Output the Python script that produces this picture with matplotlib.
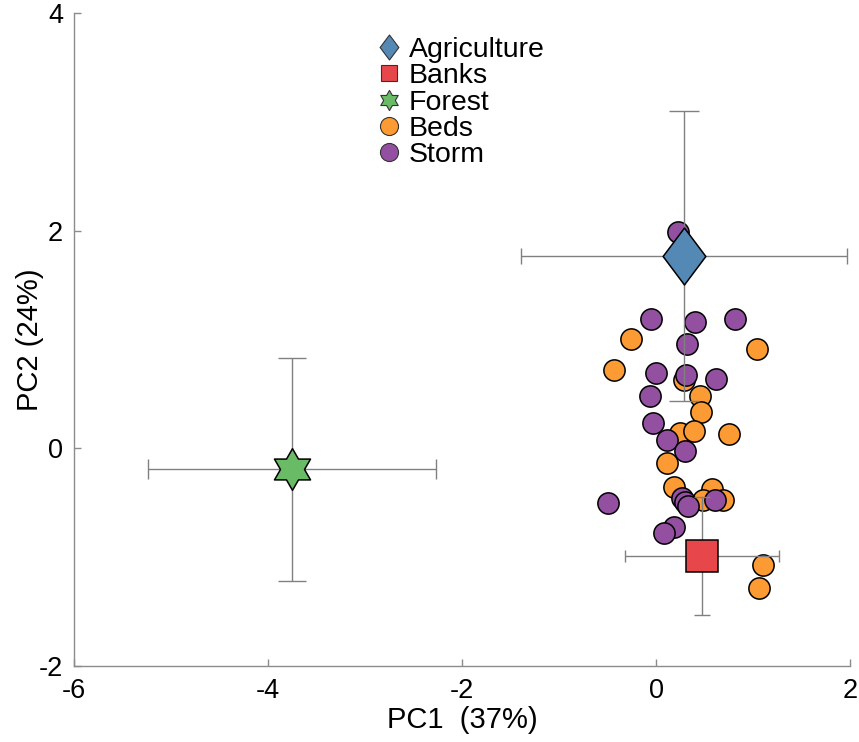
import numpy as np
import matplotlib
matplotlib.use("Agg")
import matplotlib.pyplot as plt
from matplotlib.path import Path
from matplotlib.lines import Line2D

plt.rcParams['font.family'] = ['Liberation Sans', 'DejaVu Sans']

# ---- data ----
groups = ["Agriculture", "Banks", "Forest", "Beds", "Storm"]
colors = ["#5589b5", "#e7474a", "#6abb66", "#fc9a33", "#9450a0"]

# centroid groups (mean, error)
cent_x = [0.286, 0.477, -3.756]
cent_y = [1.767, -0.993, -0.196]
cent_xerr = [1.68, 0.795, 1.485]
cent_yerr = [1.33, 0.54, 1.025]

beds_x = [-0.258, 1.041, -0.433, 0.289, 0.454, 0.464, 0.247, 0.392, 0.753,
          0.113, 0.186, 0.577, 0.485, 0.691, 1.103, 1.062]
beds_y = [1.002, 0.910, 0.717, 0.625, 0.478, 0.331, 0.138, 0.156, 0.129,
          -0.138, -0.358, -0.377, -0.478, -0.478, -1.075, -1.287]

storm_x = [0.227, -0.052, 0.402, 0.814, 0.320, 0.0, 0.309, 0.619, -0.062,
           -0.031, 0.113, 0.299, 0.268, 0.299, 0.330, 0.608, -0.495, 0.186, 0.082]
storm_y = [1.985, 1.185, 1.158, 1.185, 0.956, 0.689, 0.671, 0.634, 0.478,
           0.230, 0.074, -0.028, -0.460, -0.496, -0.533, -0.478, -0.506, -0.726, -0.781]

xticks = [-6, -4, -2, 0, 2]
yticks = [-2, 0, 2, 4]

# ---- markers ----
diamond = Path([(0, 1), (0.75, 0), (0, -1), (-0.75, 0), (0, 1)],
               [Path.MOVETO, Path.LINETO, Path.LINETO, Path.LINETO, Path.CLOSEPOLY])
hexagram = Path.unit_regular_star(6, 0.577)
cent_markers = [diamond, "s", hexagram]
cent_ms = [41, 23.5, 30]
cent_capx = [5.8, 4.0, 7.0]
cent_capy = [11.0, 6.0, 10.0]

fig = plt.figure(figsize=(8.59, 7.42), dpi=100)
ax = fig.add_axes([0.0865, 0.1028, 0.9030, 0.8797])

ax.plot(beds_x, beds_y, 'o', ms=15.3, mfc=colors[3], mec='black', mew=1.1, zorder=3)
ax.plot(storm_x, storm_y, 'o', ms=15.3, mfc=colors[4], mec='black', mew=1.1, zorder=4)

err_col = '#808080'
for i in range(3):
    ax.errorbar(cent_x[i], cent_y[i], xerr=cent_xerr[i], fmt='none', ecolor=err_col,
                elinewidth=1.0, capsize=cent_capx[i], capthick=1.0, zorder=5)
    ax.errorbar(cent_x[i], cent_y[i], yerr=cent_yerr[i], fmt='none', ecolor=err_col,
                elinewidth=1.0, capsize=cent_capy[i], capthick=1.0, zorder=5)
    ax.plot(cent_x[i], cent_y[i], marker=cent_markers[i], ms=cent_ms[i], mfc=colors[i],
            mec='black', mew=1.1, ls='none', zorder=6)

ax.set_xlim(-6, 2)
ax.set_ylim(-2, 4)
ax.set_xticks(xticks)
ax.set_yticks(yticks)
ax.set_xticklabels([str(t) for t in xticks])
ax.set_yticklabels([str(t) for t in yticks])
for s in ['top', 'right']:
    ax.spines[s].set_visible(False)
for s in ['left', 'bottom']:
    ax.spines[s].set_color('#8c8c8c')
    ax.spines[s].set_linewidth(1.0)
ax.tick_params(axis='both', direction='in', length=5, width=1.0, color='#8c8c8c',
               labelsize=19.5, labelcolor='black')
ax.tick_params(axis='x', pad=9)
ax.tick_params(axis='y', pad=8)
ax.set_xlabel("PC1  (37%)", fontsize=21, labelpad=1)
ax.set_ylabel("PC2 (24%)", fontsize=21, labelpad=-4)

# legend proxies
leg_markers = [diamond, "s", hexagram, "o", "o"]
leg_ms = [18, 11, 14.5, 13, 13]
handles = [Line2D([], [], ls='none', marker=leg_markers[i], ms=leg_ms[i], mfc=colors[i],
                  mec='#333333', mew=0.8) for i in range(5)]
ax.legend(handles, groups, loc='upper left', bbox_to_anchor=(0.385, 0.963), frameon=False,
          fontsize=20.5, labelspacing=0.01, handletextpad=0.1, borderpad=0,
          handlelength=1.15, borderaxespad=0)

fig.savefig("out.png", dpi=100)
